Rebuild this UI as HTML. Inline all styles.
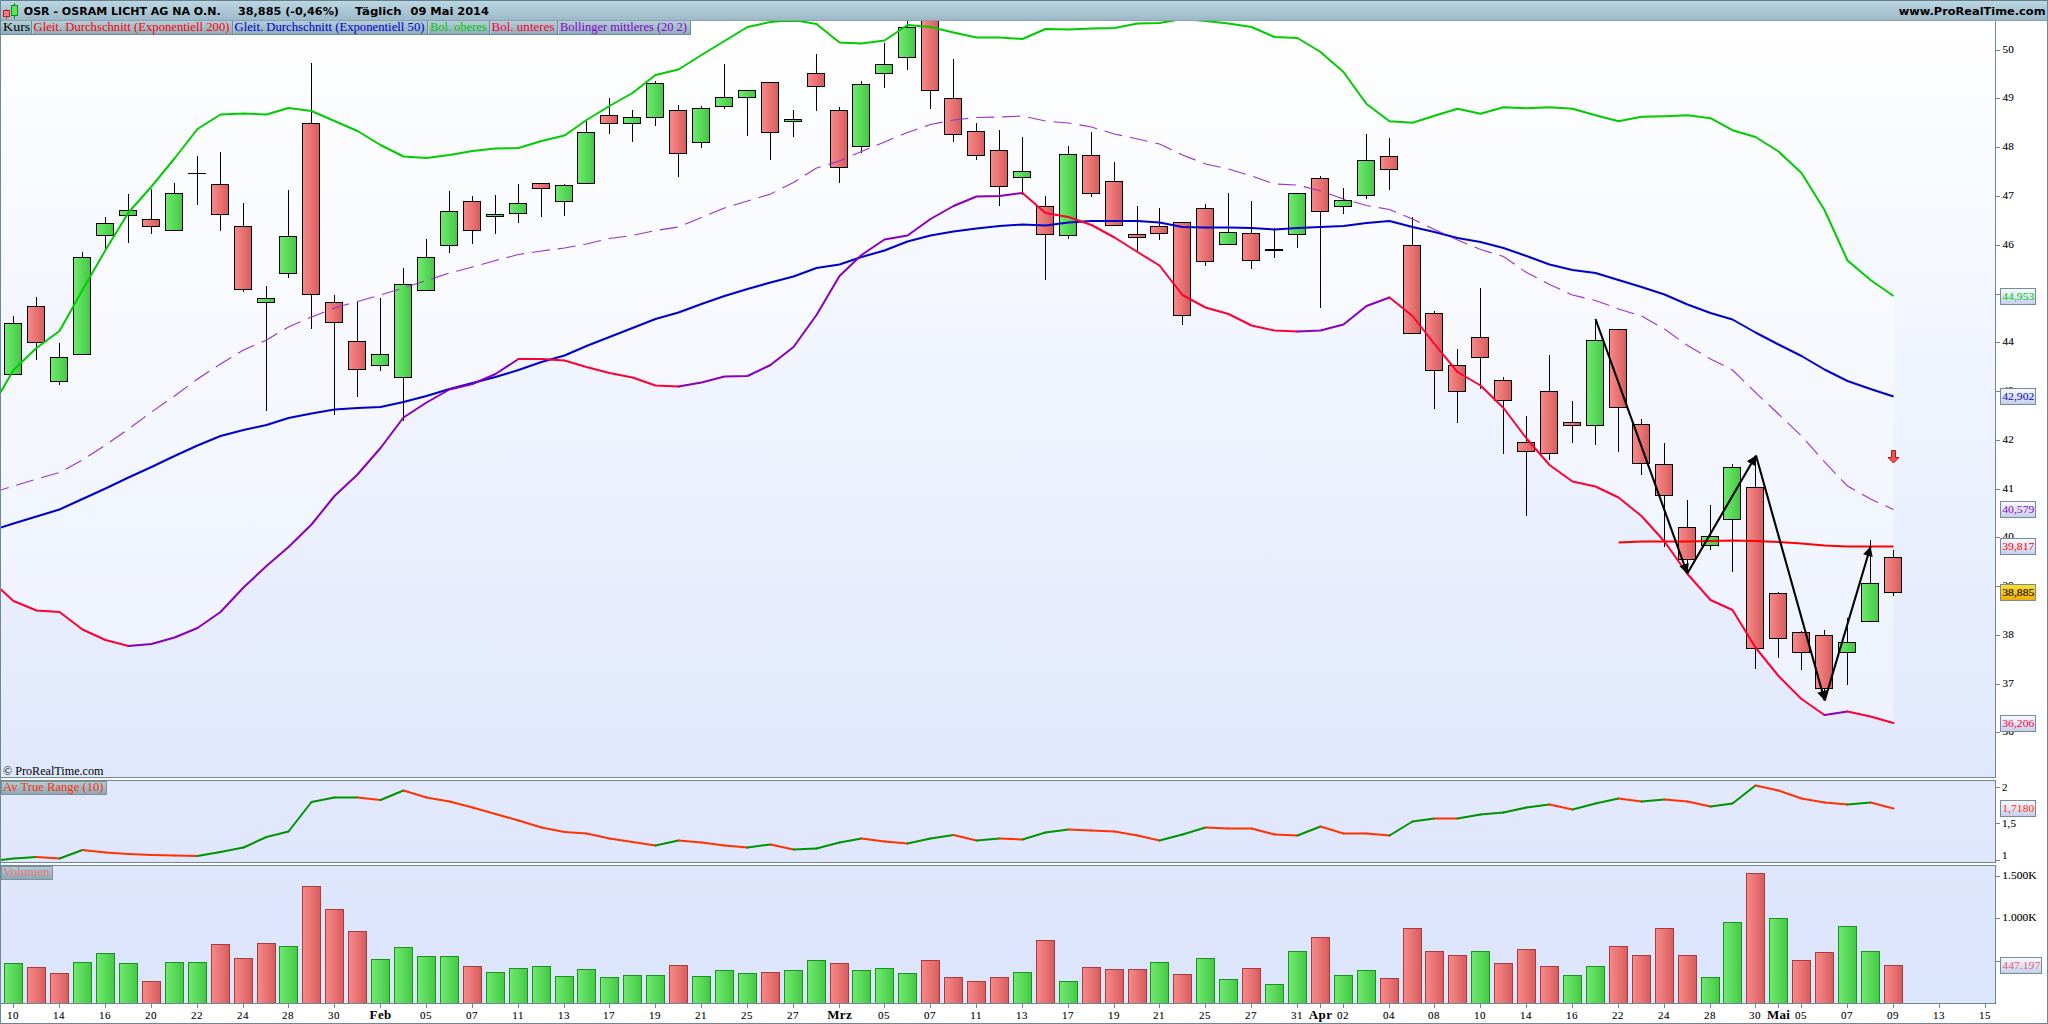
<!DOCTYPE html>
<html><head><meta charset="utf-8"><title>OSR - OSRAM LICHT AG NA O.N.</title>
<style>html,body{margin:0;padding:0;background:#fff;overflow:hidden}svg{display:block}.s{font-family:"Liberation Serif",serif;font-size:11px}.l{font-family:"Liberation Serif",serif;font-size:11.5px}.m{font-family:"Liberation Serif",serif;font-size:13px;font-weight:bold}.k{stroke:#000;stroke-width:0.1px}.t{font-family:"DejaVu Sans",sans-serif;font-size:11px;font-weight:bold}</style></head><body>
<svg width="2048" height="1024" viewBox="0 0 2048 1024">
<defs>
<linearGradient id="bg1" x1="0" y1="0" x2="0" y2="1"><stop offset="0" stop-color="#ffffff"/><stop offset="1" stop-color="#e0e8fc"/></linearGradient>
<linearGradient id="bg1f" x1="0" y1="0" x2="0" y2="1"><stop offset="0" stop-color="#fbfcff"/><stop offset="0.35" stop-color="#f2f5fe"/><stop offset="1" stop-color="#e2e7fb"/></linearGradient>
<linearGradient id="bg2" x1="0" y1="0" x2="0" y2="1"><stop offset="0" stop-color="#e3e9fd"/><stop offset="1" stop-color="#e0e7fd"/></linearGradient>
<linearGradient id="bg3" x1="0" y1="0" x2="0" y2="1"><stop offset="0" stop-color="#dfe7fd"/><stop offset="1" stop-color="#dbe5fc"/></linearGradient>
<linearGradient id="hd" x1="0" y1="0" x2="0" y2="1"><stop offset="0" stop-color="#bcd8e4"/><stop offset="0.5" stop-color="#acc8d6"/><stop offset="1" stop-color="#9cb8c6"/></linearGradient>
<linearGradient id="lg" x1="0" y1="0" x2="0" y2="1"><stop offset="0" stop-color="#b4ced9"/><stop offset="1" stop-color="#8ca6b4"/></linearGradient>
<linearGradient id="lg0" x1="0" y1="0" x2="0" y2="1"><stop offset="0" stop-color="#b4ced9"/><stop offset="1" stop-color="#8eaab8"/></linearGradient>
<linearGradient id="gr" x1="0" y1="0" x2="1" y2="0"><stop offset="0" stop-color="#f88a8a"/><stop offset="1" stop-color="#d85c5c"/></linearGradient>
<linearGradient id="gg" x1="0" y1="0" x2="1" y2="0"><stop offset="0" stop-color="#70ea70"/><stop offset="1" stop-color="#44c844"/></linearGradient>
<linearGradient id="pb" x1="0" y1="0" x2="0" y2="1"><stop offset="0" stop-color="#fafbff"/><stop offset="1" stop-color="#c6ceec"/></linearGradient>
<linearGradient id="py" x1="0" y1="0" x2="0" y2="1"><stop offset="0" stop-color="#ffe030"/><stop offset="1" stop-color="#f0b000"/></linearGradient>
<clipPath id="c1"><rect x="1" y="21" width="1994" height="756"/></clipPath>
</defs>
<rect x="0" y="0" width="2048" height="1024" fill="#ffffff"/>
<rect x="1" y="20" width="1994" height="757" fill="url(#bg1)"/>
<rect x="1" y="780" width="1994" height="82" fill="url(#bg2)"/>
<rect x="1" y="866" width="1994" height="137" fill="url(#bg3)"/>
<g clip-path="url(#c1)">
<polygon points="-8.5,408 13.5,370 36.5,348 59.5,331 82.5,290 105.5,250 128.5,212.5 151.5,186.5 174.5,158.5 197.5,129 220.5,114.5 243.5,113.5 266.5,114.5 288.5,108 311.5,111 334.5,121 357.5,131 380.5,145 403.5,156.5 426.5,158 449.5,155 472.5,151 495.5,148.5 518.5,148 541.5,141 564.5,135.5 586.5,120 609.5,106 632.5,93 655.5,75 678.5,69.5 701.5,55 724.5,41 747.5,27 770.5,22 793.5,20 816.5,24 839.5,42.5 861.5,43.5 884.5,40.5 907.5,25 930.5,27 953.5,32.5 976.5,37.5 999.5,37.5 1022.5,39 1045.5,29 1068.5,29.5 1091.5,28.5 1114.5,28 1137.5,23.5 1159.5,23 1182.5,19 1205.5,21 1228.5,23.5 1251.5,27 1274.5,37 1297.5,38 1320.5,52 1343.5,72 1366.5,104 1389.5,121.2 1412.5,122.7 1434.5,115.7 1457.5,108.7 1480.5,113.7 1503.5,107.2 1526.5,108.2 1549.5,107.2 1572.5,108.7 1595.5,115.2 1618.5,121.2 1641.5,116.7 1664.5,116.2 1687.5,115.2 1710.5,118.2 1732.5,130.2 1755.5,137 1778.5,151.5 1801.5,173 1824.5,210 1847.5,260.5 1870.5,280 1893.5,296 1893.5,723 1870.5,716.5 1847.5,711.5 1824.5,715 1801.5,699 1778.5,676 1755.5,647.5 1732.5,610 1710.5,600 1687.5,574 1664.5,541.5 1641.5,516 1618.5,497.5 1595.5,486.5 1572.5,481.5 1549.5,465 1526.5,438.5 1503.5,408 1480.5,385.5 1457.5,372 1434.5,344 1412.5,316 1389.5,297.5 1366.5,306 1343.5,324.5 1320.5,330.5 1297.5,331.5 1274.5,330.5 1251.5,325.5 1228.5,314 1205.5,307.5 1182.5,295 1159.5,265.5 1137.5,252 1114.5,237.5 1091.5,225 1068.5,217 1045.5,213 1022.5,193 999.5,196 976.5,196.5 953.5,206 930.5,219 907.5,235.5 884.5,239.5 861.5,255 839.5,276 816.5,315 793.5,347 770.5,365 747.5,376 724.5,376.5 701.5,382.5 678.5,386.5 655.5,385.5 632.5,377.5 609.5,373 586.5,367 564.5,360.5 541.5,359 518.5,359 495.5,374 472.5,384 449.5,389.5 426.5,402.5 403.5,417.5 380.5,448 357.5,474.5 334.5,496 311.5,524.5 288.5,547 266.5,566 243.5,587.5 220.5,612 197.5,628 174.5,637.5 151.5,644 128.5,646 105.5,640 82.5,629.5 59.5,612 36.5,610.5 13.5,601 -8.5,581" fill="#ffffff" fill-opacity="0.38"/>
<g shape-rendering="crispEdges" stroke="#000" stroke-width="1">
<line x1="13.5" y1="316" x2="13.5" y2="323"/>
<rect x="4.5" y="323.5" width="17" height="51.0" fill="url(#gg)"/>
<line x1="36.5" y1="297" x2="36.5" y2="306"/>
<line x1="36.5" y1="342.5" x2="36.5" y2="360"/>
<rect x="27.5" y="306.5" width="17" height="36.0" fill="url(#gr)"/>
<line x1="59.5" y1="342.5" x2="59.5" y2="357.5"/>
<line x1="59.5" y1="381.5" x2="59.5" y2="385"/>
<rect x="50.5" y="357.5" width="17" height="24.0" fill="url(#gg)"/>
<line x1="82.5" y1="252" x2="82.5" y2="257.5"/>
<rect x="73.5" y="257.5" width="17" height="97.0" fill="url(#gg)"/>
<line x1="105.5" y1="217" x2="105.5" y2="223"/>
<line x1="105.5" y1="235.5" x2="105.5" y2="249.5"/>
<rect x="96.5" y="223.5" width="17" height="12.0" fill="url(#gg)"/>
<line x1="128.5" y1="194" x2="128.5" y2="210.5"/>
<line x1="128.5" y1="215.5" x2="128.5" y2="243"/>
<rect x="119.5" y="210.5" width="17" height="5.0" fill="url(#gg)"/>
<line x1="151.5" y1="189" x2="151.5" y2="219"/>
<line x1="151.5" y1="226" x2="151.5" y2="234"/>
<rect x="142.5" y="219.5" width="17" height="7.0" fill="url(#gr)"/>
<line x1="174.5" y1="183" x2="174.5" y2="193"/>
<rect x="165.5" y="193.5" width="17" height="37.0" fill="url(#gg)"/>
<line x1="197.5" y1="156" x2="197.5" y2="205"/>
<line x1="188.0" y1="173" x2="206.0" y2="173" stroke-width="1"/>
<line x1="220.5" y1="152" x2="220.5" y2="184"/>
<line x1="220.5" y1="214.5" x2="220.5" y2="231"/>
<rect x="211.5" y="184.5" width="17" height="30.0" fill="url(#gr)"/>
<line x1="243.5" y1="203" x2="243.5" y2="226"/>
<line x1="243.5" y1="289.5" x2="243.5" y2="292"/>
<rect x="234.5" y="226.5" width="17" height="63.0" fill="url(#gr)"/>
<line x1="266.5" y1="286" x2="266.5" y2="298"/>
<line x1="266.5" y1="302" x2="266.5" y2="411"/>
<rect x="257.5" y="298.5" width="17" height="4.0" fill="url(#gg)"/>
<line x1="288.5" y1="190" x2="288.5" y2="236"/>
<line x1="288.5" y1="273.5" x2="288.5" y2="278"/>
<rect x="279.5" y="236.5" width="17" height="37.0" fill="url(#gg)"/>
<line x1="311.5" y1="63" x2="311.5" y2="123"/>
<line x1="311.5" y1="294.5" x2="311.5" y2="329"/>
<rect x="302.5" y="123.5" width="17" height="171.0" fill="url(#gr)"/>
<line x1="334.5" y1="295" x2="334.5" y2="302.5"/>
<line x1="334.5" y1="322.5" x2="334.5" y2="415"/>
<rect x="325.5" y="302.5" width="17" height="20.0" fill="url(#gr)"/>
<line x1="357.5" y1="302" x2="357.5" y2="341"/>
<line x1="357.5" y1="369.5" x2="357.5" y2="397"/>
<rect x="348.5" y="341.5" width="17" height="28.0" fill="url(#gr)"/>
<line x1="380.5" y1="298" x2="380.5" y2="354"/>
<line x1="380.5" y1="365.5" x2="380.5" y2="371"/>
<rect x="371.5" y="354.5" width="17" height="11.0" fill="url(#gg)"/>
<line x1="403.5" y1="268" x2="403.5" y2="284"/>
<line x1="403.5" y1="377.5" x2="403.5" y2="421"/>
<rect x="394.5" y="284.5" width="17" height="93.0" fill="url(#gg)"/>
<line x1="426.5" y1="239" x2="426.5" y2="257.5"/>
<rect x="417.5" y="257.5" width="17" height="33.0" fill="url(#gg)"/>
<line x1="449.5" y1="191" x2="449.5" y2="211"/>
<line x1="449.5" y1="245.5" x2="449.5" y2="253"/>
<rect x="440.5" y="211.5" width="17" height="34.0" fill="url(#gg)"/>
<line x1="472.5" y1="196" x2="472.5" y2="201"/>
<line x1="472.5" y1="230.5" x2="472.5" y2="244"/>
<rect x="463.5" y="201.5" width="17" height="29.0" fill="url(#gr)"/>
<line x1="495.5" y1="195" x2="495.5" y2="214"/>
<line x1="495.5" y1="216" x2="495.5" y2="234"/>
<rect x="486.5" y="214.5" width="17" height="2.0" fill="url(#gg)"/>
<line x1="518.5" y1="184" x2="518.5" y2="203"/>
<line x1="518.5" y1="213" x2="518.5" y2="222.5"/>
<rect x="509.5" y="203.5" width="17" height="10.0" fill="url(#gg)"/>
<line x1="541.5" y1="188" x2="541.5" y2="217"/>
<rect x="532.5" y="183.5" width="17" height="5.0" fill="url(#gr)"/>
<line x1="564.5" y1="184" x2="564.5" y2="185"/>
<line x1="564.5" y1="201" x2="564.5" y2="216"/>
<rect x="555.5" y="185.5" width="17" height="16.0" fill="url(#gg)"/>
<line x1="586.5" y1="121" x2="586.5" y2="132.5"/>
<rect x="577.5" y="132.5" width="17" height="51.0" fill="url(#gg)"/>
<line x1="609.5" y1="98" x2="609.5" y2="115"/>
<line x1="609.5" y1="123" x2="609.5" y2="134"/>
<rect x="600.5" y="115.5" width="17" height="8.0" fill="url(#gr)"/>
<line x1="632.5" y1="110" x2="632.5" y2="117.5"/>
<line x1="632.5" y1="123" x2="632.5" y2="142"/>
<rect x="623.5" y="117.5" width="17" height="6.0" fill="url(#gg)"/>
<line x1="655.5" y1="81" x2="655.5" y2="83.5"/>
<line x1="655.5" y1="117" x2="655.5" y2="126"/>
<rect x="646.5" y="83.5" width="17" height="34.0" fill="url(#gg)"/>
<line x1="678.5" y1="105" x2="678.5" y2="110.5"/>
<line x1="678.5" y1="153" x2="678.5" y2="177"/>
<rect x="669.5" y="110.5" width="17" height="43.0" fill="url(#gr)"/>
<line x1="701.5" y1="106" x2="701.5" y2="108"/>
<line x1="701.5" y1="142" x2="701.5" y2="148"/>
<rect x="692.5" y="108.5" width="17" height="34.0" fill="url(#gg)"/>
<line x1="724.5" y1="64" x2="724.5" y2="97.5"/>
<line x1="724.5" y1="106.5" x2="724.5" y2="109"/>
<rect x="715.5" y="97.5" width="17" height="9.0" fill="url(#gg)"/>
<line x1="747.5" y1="97.5" x2="747.5" y2="136"/>
<rect x="738.5" y="90.5" width="17" height="7.0" fill="url(#gg)"/>
<line x1="770.5" y1="132" x2="770.5" y2="159.5"/>
<rect x="761.5" y="82.5" width="17" height="50.0" fill="url(#gr)"/>
<line x1="793.5" y1="110" x2="793.5" y2="119"/>
<line x1="793.5" y1="121.5" x2="793.5" y2="137"/>
<rect x="784.5" y="119.5" width="17" height="2.0" fill="url(#gg)"/>
<line x1="816.5" y1="54" x2="816.5" y2="73"/>
<line x1="816.5" y1="86.5" x2="816.5" y2="111"/>
<rect x="807.5" y="73.5" width="17" height="13.0" fill="url(#gr)"/>
<line x1="839.5" y1="107" x2="839.5" y2="110.5"/>
<line x1="839.5" y1="167" x2="839.5" y2="183"/>
<rect x="830.5" y="110.5" width="17" height="57.0" fill="url(#gr)"/>
<line x1="861.5" y1="81" x2="861.5" y2="84.5"/>
<line x1="861.5" y1="146" x2="861.5" y2="152.5"/>
<rect x="852.5" y="84.5" width="17" height="62.0" fill="url(#gg)"/>
<line x1="884.5" y1="43" x2="884.5" y2="64.5"/>
<line x1="884.5" y1="73.5" x2="884.5" y2="88"/>
<rect x="875.5" y="64.5" width="17" height="9.0" fill="url(#gg)"/>
<line x1="907.5" y1="15" x2="907.5" y2="27.5"/>
<line x1="907.5" y1="57.5" x2="907.5" y2="69.5"/>
<rect x="898.5" y="27.5" width="17" height="30.0" fill="url(#gg)"/>
<line x1="930.5" y1="10" x2="930.5" y2="12"/>
<line x1="930.5" y1="90" x2="930.5" y2="108.5"/>
<rect x="921.5" y="12.5" width="17" height="78.0" fill="url(#gr)"/>
<line x1="953.5" y1="59" x2="953.5" y2="98.5"/>
<line x1="953.5" y1="134.5" x2="953.5" y2="142"/>
<rect x="944.5" y="98.5" width="17" height="36.0" fill="url(#gr)"/>
<line x1="976.5" y1="123" x2="976.5" y2="131.5"/>
<line x1="976.5" y1="155.5" x2="976.5" y2="160"/>
<rect x="967.5" y="131.5" width="17" height="24.0" fill="url(#gr)"/>
<line x1="999.5" y1="130" x2="999.5" y2="150.5"/>
<line x1="999.5" y1="186" x2="999.5" y2="206"/>
<rect x="990.5" y="150.5" width="17" height="36.0" fill="url(#gr)"/>
<line x1="1022.5" y1="137" x2="1022.5" y2="171"/>
<line x1="1022.5" y1="177" x2="1022.5" y2="195"/>
<rect x="1013.5" y="171.5" width="17" height="6.0" fill="url(#gg)"/>
<line x1="1045.5" y1="196" x2="1045.5" y2="206"/>
<line x1="1045.5" y1="234.5" x2="1045.5" y2="279.5"/>
<rect x="1036.5" y="206.5" width="17" height="28.0" fill="url(#gr)"/>
<line x1="1068.5" y1="146" x2="1068.5" y2="154.5"/>
<line x1="1068.5" y1="235" x2="1068.5" y2="239"/>
<rect x="1059.5" y="154.5" width="17" height="81.0" fill="url(#gg)"/>
<line x1="1091.5" y1="132" x2="1091.5" y2="155.5"/>
<line x1="1091.5" y1="193" x2="1091.5" y2="197"/>
<rect x="1082.5" y="155.5" width="17" height="38.0" fill="url(#gr)"/>
<line x1="1114.5" y1="162" x2="1114.5" y2="181"/>
<rect x="1105.5" y="181.5" width="17" height="44.0" fill="url(#gr)"/>
<line x1="1137.5" y1="206" x2="1137.5" y2="234"/>
<line x1="1137.5" y1="237.5" x2="1137.5" y2="250.5"/>
<rect x="1128.5" y="234.5" width="17" height="3.0" fill="url(#gr)"/>
<line x1="1159.5" y1="208" x2="1159.5" y2="226"/>
<line x1="1159.5" y1="233.5" x2="1159.5" y2="240"/>
<rect x="1150.5" y="226.5" width="17" height="7.0" fill="url(#gr)"/>
<line x1="1182.5" y1="315" x2="1182.5" y2="324.5"/>
<rect x="1173.5" y="222.5" width="17" height="93.0" fill="url(#gr)"/>
<line x1="1205.5" y1="204" x2="1205.5" y2="208"/>
<line x1="1205.5" y1="261.5" x2="1205.5" y2="265.5"/>
<rect x="1196.5" y="208.5" width="17" height="53.0" fill="url(#gr)"/>
<line x1="1228.5" y1="193" x2="1228.5" y2="232.5"/>
<rect x="1219.5" y="232.5" width="17" height="12.0" fill="url(#gg)"/>
<line x1="1251.5" y1="201" x2="1251.5" y2="233"/>
<line x1="1251.5" y1="260.5" x2="1251.5" y2="269"/>
<rect x="1242.5" y="233.5" width="17" height="27.0" fill="url(#gr)"/>
<line x1="1274.5" y1="228" x2="1274.5" y2="257.5"/>
<line x1="1265.0" y1="249.5" x2="1283.0" y2="249.5" stroke-width="2"/>
<line x1="1297.5" y1="234.5" x2="1297.5" y2="247.5"/>
<rect x="1288.5" y="193.5" width="17" height="41.0" fill="url(#gg)"/>
<line x1="1320.5" y1="176" x2="1320.5" y2="178"/>
<line x1="1320.5" y1="211.5" x2="1320.5" y2="307.5"/>
<rect x="1311.5" y="178.5" width="17" height="33.0" fill="url(#gr)"/>
<line x1="1343.5" y1="188" x2="1343.5" y2="200"/>
<line x1="1343.5" y1="206.5" x2="1343.5" y2="214"/>
<rect x="1334.5" y="200.5" width="17" height="6.0" fill="url(#gg)"/>
<line x1="1366.5" y1="134" x2="1366.5" y2="160.5"/>
<line x1="1366.5" y1="195.5" x2="1366.5" y2="198.5"/>
<rect x="1357.5" y="160.5" width="17" height="35.0" fill="url(#gg)"/>
<line x1="1389.5" y1="138" x2="1389.5" y2="156.5"/>
<line x1="1389.5" y1="169.5" x2="1389.5" y2="190"/>
<rect x="1380.5" y="156.5" width="17" height="13.0" fill="url(#gr)"/>
<line x1="1412.5" y1="217" x2="1412.5" y2="245.5"/>
<rect x="1403.5" y="245.5" width="17" height="88.0" fill="url(#gr)"/>
<line x1="1434.5" y1="311" x2="1434.5" y2="313.5"/>
<line x1="1434.5" y1="370.5" x2="1434.5" y2="409"/>
<rect x="1425.5" y="313.5" width="17" height="57.0" fill="url(#gr)"/>
<line x1="1457.5" y1="349" x2="1457.5" y2="365.5"/>
<line x1="1457.5" y1="391.5" x2="1457.5" y2="423"/>
<rect x="1448.5" y="365.5" width="17" height="26.0" fill="url(#gr)"/>
<line x1="1480.5" y1="288" x2="1480.5" y2="337.5"/>
<line x1="1480.5" y1="357.5" x2="1480.5" y2="389"/>
<rect x="1471.5" y="337.5" width="17" height="20.0" fill="url(#gr)"/>
<line x1="1503.5" y1="377" x2="1503.5" y2="380.5"/>
<line x1="1503.5" y1="400.5" x2="1503.5" y2="454"/>
<rect x="1494.5" y="380.5" width="17" height="20.0" fill="url(#gr)"/>
<line x1="1526.5" y1="416" x2="1526.5" y2="442.5"/>
<line x1="1526.5" y1="451.5" x2="1526.5" y2="516"/>
<rect x="1517.5" y="442.5" width="17" height="9.0" fill="url(#gr)"/>
<line x1="1549.5" y1="355" x2="1549.5" y2="391.5"/>
<line x1="1549.5" y1="453" x2="1549.5" y2="459.5"/>
<rect x="1540.5" y="391.5" width="17" height="62.0" fill="url(#gr)"/>
<line x1="1572.5" y1="401" x2="1572.5" y2="422.5"/>
<line x1="1572.5" y1="425.5" x2="1572.5" y2="443"/>
<rect x="1563.5" y="422.5" width="17" height="3.0" fill="url(#gr)"/>
<line x1="1595.5" y1="319" x2="1595.5" y2="340.5"/>
<line x1="1595.5" y1="425" x2="1595.5" y2="444.5"/>
<rect x="1586.5" y="340.5" width="17" height="85.0" fill="url(#gg)"/>
<line x1="1618.5" y1="407" x2="1618.5" y2="451.5"/>
<rect x="1609.5" y="329.5" width="17" height="78.0" fill="url(#gr)"/>
<line x1="1641.5" y1="419" x2="1641.5" y2="424.5"/>
<line x1="1641.5" y1="463.5" x2="1641.5" y2="474.5"/>
<rect x="1632.5" y="424.5" width="17" height="39.0" fill="url(#gr)"/>
<line x1="1664.5" y1="443" x2="1664.5" y2="464.5"/>
<line x1="1664.5" y1="495.5" x2="1664.5" y2="547"/>
<rect x="1655.5" y="464.5" width="17" height="31.0" fill="url(#gr)"/>
<line x1="1687.5" y1="500" x2="1687.5" y2="527"/>
<line x1="1687.5" y1="559.5" x2="1687.5" y2="573"/>
<rect x="1678.5" y="527.5" width="17" height="32.0" fill="url(#gr)"/>
<line x1="1710.5" y1="505" x2="1710.5" y2="536.5"/>
<line x1="1710.5" y1="545.5" x2="1710.5" y2="550"/>
<rect x="1701.5" y="536.5" width="17" height="9.0" fill="url(#gg)"/>
<line x1="1732.5" y1="464" x2="1732.5" y2="467.5"/>
<line x1="1732.5" y1="519.5" x2="1732.5" y2="572"/>
<rect x="1723.5" y="467.5" width="17" height="52.0" fill="url(#gg)"/>
<line x1="1755.5" y1="456" x2="1755.5" y2="487.5"/>
<line x1="1755.5" y1="648" x2="1755.5" y2="668.5"/>
<rect x="1746.5" y="487.5" width="17" height="161.0" fill="url(#gr)"/>
<line x1="1778.5" y1="592" x2="1778.5" y2="593"/>
<line x1="1778.5" y1="638.5" x2="1778.5" y2="658"/>
<rect x="1769.5" y="593.5" width="17" height="45.0" fill="url(#gr)"/>
<line x1="1801.5" y1="631" x2="1801.5" y2="632.5"/>
<line x1="1801.5" y1="652.5" x2="1801.5" y2="669.5"/>
<rect x="1792.5" y="632.5" width="17" height="20.0" fill="url(#gr)"/>
<line x1="1824.5" y1="630" x2="1824.5" y2="635"/>
<line x1="1824.5" y1="688.5" x2="1824.5" y2="700"/>
<rect x="1815.5" y="635.5" width="17" height="53.0" fill="url(#gr)"/>
<line x1="1847.5" y1="618" x2="1847.5" y2="642"/>
<line x1="1847.5" y1="652.5" x2="1847.5" y2="684.5"/>
<rect x="1838.5" y="642.5" width="17" height="10.0" fill="url(#gg)"/>
<line x1="1870.5" y1="540" x2="1870.5" y2="583.5"/>
<rect x="1861.5" y="583.5" width="17" height="38.0" fill="url(#gg)"/>
<line x1="1893.5" y1="550" x2="1893.5" y2="557.5"/>
<line x1="1893.5" y1="592.5" x2="1893.5" y2="596"/>
<rect x="1884.5" y="557.5" width="17" height="35.0" fill="url(#gr)"/>
</g>
<path d="M1618.5 542.5 L1641.5 541.5 L1664.5 541.5 L1687.5 541.5 L1710.5 541 L1732.5 540.5 L1755.5 541 L1778.5 542 L1801.5 543.5 L1824.5 545.5 L1847.5 546.5 L1870.5 546.5 L1893.5 546.5" fill="none" stroke="#ff0000" stroke-width="2" stroke-linejoin="round"/>
<path d="M-8.5 530.5 L13.5 523.5 L36.5 516.5 L59.5 509.5 L82.5 499 L105.5 488.5 L128.5 477.5 L151.5 467 L174.5 456 L197.5 445.5 L220.5 436 L243.5 430 L266.5 425 L288.5 418 L311.5 413.5 L334.5 409.5 L357.5 408 L380.5 407 L403.5 402 L426.5 396 L449.5 389 L472.5 383 L495.5 377 L518.5 370 L541.5 362 L564.5 355.5 L586.5 346 L609.5 337 L632.5 328 L655.5 319 L678.5 312.5 L701.5 304 L724.5 296 L747.5 289 L770.5 282.5 L793.5 276.5 L816.5 268 L839.5 264.5 L861.5 257 L884.5 250.5 L907.5 241.5 L930.5 235.5 L953.5 231.5 L976.5 228.5 L999.5 226 L1022.5 224.5 L1045.5 225.5 L1068.5 222.5 L1091.5 221 L1114.5 221 L1137.5 221 L1159.5 222.5 L1182.5 227 L1205.5 227.5 L1228.5 227.5 L1251.5 228 L1274.5 229.5 L1297.5 228 L1320.5 227 L1343.5 226 L1366.5 223 L1389.5 221 L1412.5 227 L1434.5 232 L1457.5 238 L1480.5 242 L1503.5 248 L1526.5 256 L1549.5 264.5 L1572.5 270 L1595.5 273 L1618.5 280 L1641.5 287 L1664.5 294.5 L1687.5 304.5 L1710.5 313 L1732.5 319.5 L1755.5 332.5 L1778.5 344.5 L1801.5 356 L1824.5 369.5 L1847.5 381 L1870.5 389 L1893.5 396.5" fill="none" stroke="#0000cc" stroke-width="2" stroke-linejoin="round"/>
<path d="M-8.5 408 L13.5 370 L36.5 348 L59.5 331 L82.5 290 L105.5 250 L128.5 212.5 L151.5 186.5 L174.5 158.5 L197.5 129 L220.5 114.5 L243.5 113.5 L266.5 114.5 L288.5 108 L311.5 111 L334.5 121 L357.5 131 L380.5 145 L403.5 156.5 L426.5 158 L449.5 155 L472.5 151 L495.5 148.5 L518.5 148 L541.5 141 L564.5 135.5 L586.5 120 L609.5 106 L632.5 93 L655.5 75 L678.5 69.5 L701.5 55 L724.5 41 L747.5 27 L770.5 22 L793.5 20 L816.5 24 L839.5 42.5 L861.5 43.5 L884.5 40.5 L907.5 25 L930.5 27 L953.5 32.5 L976.5 37.5 L999.5 37.5 L1022.5 39 L1045.5 29 L1068.5 29.5 L1091.5 28.5 L1114.5 28 L1137.5 23.5 L1159.5 23 L1182.5 19 L1205.5 21 L1228.5 23.5 L1251.5 27 L1274.5 37 L1297.5 38 L1320.5 52 L1343.5 72 L1366.5 104 L1389.5 121.2 L1412.5 122.7 L1434.5 115.7 L1457.5 108.7 L1480.5 113.7 L1503.5 107.2 L1526.5 108.2 L1549.5 107.2 L1572.5 108.7 L1595.5 115.2 L1618.5 121.2 L1641.5 116.7 L1664.5 116.2 L1687.5 115.2 L1710.5 118.2 L1732.5 130.2 L1755.5 137 L1778.5 151.5 L1801.5 173 L1824.5 210 L1847.5 260.5 L1870.5 280 L1893.5 296" fill="none" stroke="#00cc00" stroke-width="2" stroke-linejoin="round"/>
<path d="M-8.5 493 L13.5 486 L36.5 479 L59.5 472.5 L82.5 460 L105.5 445 L128.5 429 L151.5 412 L174.5 396 L197.5 379 L220.5 364 L243.5 350 L266.5 340 L288.5 327 L311.5 317 L334.5 308 L357.5 301.5 L380.5 295 L403.5 288 L426.5 280.5 L449.5 273 L472.5 267 L495.5 260.5 L518.5 254.5 L541.5 251 L564.5 248 L586.5 244 L609.5 238.5 L632.5 235.5 L655.5 230.5 L678.5 227 L701.5 217.5 L724.5 208 L747.5 201 L770.5 194 L793.5 182.5 L816.5 168 L839.5 161 L861.5 151.5 L884.5 142 L907.5 132.5 L930.5 124.5 L953.5 120 L976.5 117.5 L999.5 117 L1022.5 116 L1045.5 121 L1068.5 123 L1091.5 127 L1114.5 134 L1137.5 139 L1159.5 144 L1182.5 155 L1205.5 164 L1228.5 169 L1251.5 176 L1274.5 184 L1297.5 185 L1320.5 191 L1343.5 199 L1366.5 205.5 L1389.5 209.5 L1412.5 219 L1434.5 229.5 L1457.5 240 L1480.5 249.5 L1503.5 256.5 L1526.5 272.5 L1549.5 284.5 L1572.5 295 L1595.5 300.5 L1618.5 309 L1641.5 316 L1664.5 329 L1687.5 345.5 L1710.5 359 L1732.5 370 L1755.5 392.5 L1778.5 414 L1801.5 436 L1824.5 462 L1847.5 486 L1870.5 499 L1893.5 509.5" fill="none" stroke="#9a32cd" stroke-width="1.1" stroke-dasharray="18 8"/>
<path d="M-8.5 581 L13.5 601 L36.5 610.5 L59.5 612 L82.5 629.5 L105.5 640 L128.5 646" fill="none" stroke="#ff0033" stroke-width="2" stroke-linejoin="round" stroke-linecap="round"/>
<path d="M128.5 646 L151.5 644 L174.5 637.5 L197.5 628 L220.5 612 L243.5 587.5 L266.5 566 L288.5 547 L311.5 524.5 L334.5 496 L357.5 474.5 L380.5 448 L403.5 417.5 L426.5 402.5 L449.5 389.5 L472.5 384 L495.5 374 L518.5 359" fill="none" stroke="#8800bb" stroke-width="2" stroke-linejoin="round" stroke-linecap="round"/>
<path d="M518.5 359 L541.5 359 L564.5 360.5 L586.5 367 L609.5 373 L632.5 377.5 L655.5 385.5 L678.5 386.5" fill="none" stroke="#ff0033" stroke-width="2" stroke-linejoin="round" stroke-linecap="round"/>
<path d="M678.5 386.5 L701.5 382.5 L724.5 376.5 L747.5 376 L770.5 365 L793.5 347 L816.5 315 L839.5 276 L861.5 255 L884.5 239.5 L907.5 235.5 L930.5 219 L953.5 206 L976.5 196.5 L999.5 196 L1022.5 193" fill="none" stroke="#8800bb" stroke-width="2" stroke-linejoin="round" stroke-linecap="round"/>
<path d="M1022.5 193 L1045.5 213 L1068.5 217 L1091.5 225 L1114.5 237.5 L1137.5 252 L1159.5 265.5 L1182.5 295 L1205.5 307.5 L1228.5 314 L1251.5 325.5 L1274.5 330.5 L1297.5 331.5" fill="none" stroke="#ff0033" stroke-width="2" stroke-linejoin="round" stroke-linecap="round"/>
<path d="M1297.5 331.5 L1320.5 330.5 L1343.5 324.5 L1366.5 306 L1389.5 297.5" fill="none" stroke="#8800bb" stroke-width="2" stroke-linejoin="round" stroke-linecap="round"/>
<path d="M1389.5 297.5 L1412.5 316 L1434.5 344 L1457.5 372 L1480.5 385.5 L1503.5 408 L1526.5 438.5 L1549.5 465 L1572.5 481.5 L1595.5 486.5 L1618.5 497.5 L1641.5 516 L1664.5 541.5 L1687.5 574 L1710.5 600 L1732.5 610 L1755.5 647.5 L1778.5 676 L1801.5 699 L1824.5 715" fill="none" stroke="#ff0033" stroke-width="2" stroke-linejoin="round" stroke-linecap="round"/>
<path d="M1824.5 715 L1847.5 711.5" fill="none" stroke="#8800bb" stroke-width="2" stroke-linejoin="round" stroke-linecap="round"/>
<path d="M1847.5 711.5 L1870.5 716.5 L1893.5 723" fill="none" stroke="#ff0033" stroke-width="2" stroke-linejoin="round" stroke-linecap="round"/>
<line x1="1595.5" y1="319" x2="1687.3" y2="573.5" stroke="#000" stroke-width="2.1"/>
<polygon points="1687.3,573.5 1688.8,562.9 1679.4,566.3" fill="#000"/>
<line x1="1687.3" y1="573.5" x2="1756" y2="455.5" stroke="#000" stroke-width="2.1"/>
<polygon points="1756,455.5 1746.9,461.2 1755.5,466.2" fill="#000"/>
<line x1="1756" y1="455.5" x2="1824.7" y2="700.5" stroke="#000" stroke-width="2.1"/>
<polygon points="1824.7,700.5 1826.9,690.0 1817.3,692.7" fill="#000"/>
<line x1="1824.7" y1="700.5" x2="1870.6" y2="546.5" stroke="#000" stroke-width="2.1"/>
<polygon points="1870.6,546.5 1863.1,554.2 1872.7,557.0" fill="#000"/>
<path d="M1891.5 450.5H1895.5V457.5H1899L1893.5 463L1888 457.5H1891.5Z" fill="none" stroke="#ffffff" stroke-opacity="0.7" stroke-width="3" stroke-linejoin="round"/>
<path d="M1891.5 450.5H1895.5V457.5H1899L1893.5 463L1888 457.5H1891.5Z" fill="#ee5656" stroke="#c00a18" stroke-width="1" stroke-linejoin="miter"/>
</g>
<text class="l" x="3" y="775" fill="#000" textLength="100.5" lengthAdjust="spacingAndGlyphs">© ProRealTime.com</text>
<line x1="13.5" y1="858.5" x2="36.5" y2="857" stroke="#009400" stroke-width="2" stroke-linecap="round"/>
<line x1="36.5" y1="857" x2="59.5" y2="858.5" stroke="#ff3300" stroke-width="2" stroke-linecap="round"/>
<line x1="59.5" y1="858.5" x2="82.5" y2="850" stroke="#009400" stroke-width="2" stroke-linecap="round"/>
<line x1="82.5" y1="850" x2="105.5" y2="852.5" stroke="#ff3300" stroke-width="2" stroke-linecap="round"/>
<line x1="105.5" y1="852.5" x2="128.5" y2="854" stroke="#ff3300" stroke-width="2" stroke-linecap="round"/>
<line x1="128.5" y1="854" x2="151.5" y2="855" stroke="#ff3300" stroke-width="2" stroke-linecap="round"/>
<line x1="151.5" y1="855" x2="174.5" y2="855.5" stroke="#ff3300" stroke-width="2" stroke-linecap="round"/>
<line x1="174.5" y1="855.5" x2="197.5" y2="856" stroke="#ff3300" stroke-width="2" stroke-linecap="round"/>
<line x1="197.5" y1="856" x2="220.5" y2="852" stroke="#009400" stroke-width="2" stroke-linecap="round"/>
<line x1="220.5" y1="852" x2="243.5" y2="847.5" stroke="#009400" stroke-width="2" stroke-linecap="round"/>
<line x1="243.5" y1="847.5" x2="266.5" y2="837" stroke="#009400" stroke-width="2" stroke-linecap="round"/>
<line x1="266.5" y1="837" x2="288.5" y2="831.5" stroke="#009400" stroke-width="2" stroke-linecap="round"/>
<line x1="288.5" y1="831.5" x2="311.5" y2="802" stroke="#009400" stroke-width="2" stroke-linecap="round"/>
<line x1="311.5" y1="802" x2="334.5" y2="797.5" stroke="#009400" stroke-width="2" stroke-linecap="round"/>
<line x1="334.5" y1="797.5" x2="357.5" y2="797.4" stroke="#009400" stroke-width="2" stroke-linecap="round"/>
<line x1="357.5" y1="797.4" x2="380.5" y2="800" stroke="#ff3300" stroke-width="2" stroke-linecap="round"/>
<line x1="380.5" y1="800" x2="403.5" y2="790.5" stroke="#009400" stroke-width="2" stroke-linecap="round"/>
<line x1="403.5" y1="790.5" x2="426.5" y2="797.5" stroke="#ff3300" stroke-width="2" stroke-linecap="round"/>
<line x1="426.5" y1="797.5" x2="449.5" y2="801.5" stroke="#ff3300" stroke-width="2" stroke-linecap="round"/>
<line x1="449.5" y1="801.5" x2="472.5" y2="807.5" stroke="#ff3300" stroke-width="2" stroke-linecap="round"/>
<line x1="472.5" y1="807.5" x2="495.5" y2="814" stroke="#ff3300" stroke-width="2" stroke-linecap="round"/>
<line x1="495.5" y1="814" x2="518.5" y2="820.5" stroke="#ff3300" stroke-width="2" stroke-linecap="round"/>
<line x1="518.5" y1="820.5" x2="541.5" y2="827.5" stroke="#ff3300" stroke-width="2" stroke-linecap="round"/>
<line x1="541.5" y1="827.5" x2="564.5" y2="832" stroke="#ff3300" stroke-width="2" stroke-linecap="round"/>
<line x1="564.5" y1="832" x2="586.5" y2="833.5" stroke="#ff3300" stroke-width="2" stroke-linecap="round"/>
<line x1="586.5" y1="833.5" x2="609.5" y2="838.5" stroke="#ff3300" stroke-width="2" stroke-linecap="round"/>
<line x1="609.5" y1="838.5" x2="632.5" y2="842" stroke="#ff3300" stroke-width="2" stroke-linecap="round"/>
<line x1="632.5" y1="842" x2="655.5" y2="845.5" stroke="#ff3300" stroke-width="2" stroke-linecap="round"/>
<line x1="655.5" y1="845.5" x2="678.5" y2="840.5" stroke="#009400" stroke-width="2" stroke-linecap="round"/>
<line x1="678.5" y1="840.5" x2="701.5" y2="842.5" stroke="#ff3300" stroke-width="2" stroke-linecap="round"/>
<line x1="701.5" y1="842.5" x2="724.5" y2="845.5" stroke="#ff3300" stroke-width="2" stroke-linecap="round"/>
<line x1="724.5" y1="845.5" x2="747.5" y2="847.5" stroke="#ff3300" stroke-width="2" stroke-linecap="round"/>
<line x1="747.5" y1="847.5" x2="770.5" y2="844.5" stroke="#009400" stroke-width="2" stroke-linecap="round"/>
<line x1="770.5" y1="844.5" x2="793.5" y2="849.5" stroke="#ff3300" stroke-width="2" stroke-linecap="round"/>
<line x1="793.5" y1="849.5" x2="816.5" y2="848.5" stroke="#009400" stroke-width="2" stroke-linecap="round"/>
<line x1="816.5" y1="848.5" x2="839.5" y2="842.5" stroke="#009400" stroke-width="2" stroke-linecap="round"/>
<line x1="839.5" y1="842.5" x2="861.5" y2="838.5" stroke="#009400" stroke-width="2" stroke-linecap="round"/>
<line x1="861.5" y1="838.5" x2="884.5" y2="841.5" stroke="#ff3300" stroke-width="2" stroke-linecap="round"/>
<line x1="884.5" y1="841.5" x2="907.5" y2="843.5" stroke="#ff3300" stroke-width="2" stroke-linecap="round"/>
<line x1="907.5" y1="843.5" x2="930.5" y2="838.5" stroke="#009400" stroke-width="2" stroke-linecap="round"/>
<line x1="930.5" y1="838.5" x2="953.5" y2="835" stroke="#009400" stroke-width="2" stroke-linecap="round"/>
<line x1="953.5" y1="835" x2="976.5" y2="840.5" stroke="#ff3300" stroke-width="2" stroke-linecap="round"/>
<line x1="976.5" y1="840.5" x2="999.5" y2="838.5" stroke="#009400" stroke-width="2" stroke-linecap="round"/>
<line x1="999.5" y1="838.5" x2="1022.5" y2="839.5" stroke="#ff3300" stroke-width="2" stroke-linecap="round"/>
<line x1="1022.5" y1="839.5" x2="1045.5" y2="832.5" stroke="#009400" stroke-width="2" stroke-linecap="round"/>
<line x1="1045.5" y1="832.5" x2="1068.5" y2="829.5" stroke="#009400" stroke-width="2" stroke-linecap="round"/>
<line x1="1068.5" y1="829.5" x2="1091.5" y2="830.5" stroke="#ff3300" stroke-width="2" stroke-linecap="round"/>
<line x1="1091.5" y1="830.5" x2="1114.5" y2="831.5" stroke="#ff3300" stroke-width="2" stroke-linecap="round"/>
<line x1="1114.5" y1="831.5" x2="1137.5" y2="835.5" stroke="#ff3300" stroke-width="2" stroke-linecap="round"/>
<line x1="1137.5" y1="835.5" x2="1159.5" y2="840.5" stroke="#ff3300" stroke-width="2" stroke-linecap="round"/>
<line x1="1159.5" y1="840.5" x2="1182.5" y2="834.5" stroke="#009400" stroke-width="2" stroke-linecap="round"/>
<line x1="1182.5" y1="834.5" x2="1205.5" y2="827.5" stroke="#009400" stroke-width="2" stroke-linecap="round"/>
<line x1="1205.5" y1="827.5" x2="1228.5" y2="828.5" stroke="#ff3300" stroke-width="2" stroke-linecap="round"/>
<line x1="1228.5" y1="828.5" x2="1251.5" y2="828.5" stroke="#ff3300" stroke-width="2" stroke-linecap="round"/>
<line x1="1251.5" y1="828.5" x2="1274.5" y2="834.5" stroke="#ff3300" stroke-width="2" stroke-linecap="round"/>
<line x1="1274.5" y1="834.5" x2="1297.5" y2="835.5" stroke="#ff3300" stroke-width="2" stroke-linecap="round"/>
<line x1="1297.5" y1="835.5" x2="1320.5" y2="826.5" stroke="#009400" stroke-width="2" stroke-linecap="round"/>
<line x1="1320.5" y1="826.5" x2="1343.5" y2="833.5" stroke="#ff3300" stroke-width="2" stroke-linecap="round"/>
<line x1="1343.5" y1="833.5" x2="1366.5" y2="833.5" stroke="#ff3300" stroke-width="2" stroke-linecap="round"/>
<line x1="1366.5" y1="833.5" x2="1389.5" y2="835.5" stroke="#ff3300" stroke-width="2" stroke-linecap="round"/>
<line x1="1389.5" y1="835.5" x2="1412.5" y2="821.5" stroke="#009400" stroke-width="2" stroke-linecap="round"/>
<line x1="1412.5" y1="821.5" x2="1434.5" y2="818.5" stroke="#009400" stroke-width="2" stroke-linecap="round"/>
<line x1="1434.5" y1="818.5" x2="1457.5" y2="818.5" stroke="#ff3300" stroke-width="2" stroke-linecap="round"/>
<line x1="1457.5" y1="818.5" x2="1480.5" y2="814.5" stroke="#009400" stroke-width="2" stroke-linecap="round"/>
<line x1="1480.5" y1="814.5" x2="1503.5" y2="812.5" stroke="#009400" stroke-width="2" stroke-linecap="round"/>
<line x1="1503.5" y1="812.5" x2="1526.5" y2="807.5" stroke="#009400" stroke-width="2" stroke-linecap="round"/>
<line x1="1526.5" y1="807.5" x2="1549.5" y2="804.5" stroke="#009400" stroke-width="2" stroke-linecap="round"/>
<line x1="1549.5" y1="804.5" x2="1572.5" y2="809.5" stroke="#ff3300" stroke-width="2" stroke-linecap="round"/>
<line x1="1572.5" y1="809.5" x2="1595.5" y2="803.5" stroke="#009400" stroke-width="2" stroke-linecap="round"/>
<line x1="1595.5" y1="803.5" x2="1618.5" y2="798.5" stroke="#009400" stroke-width="2" stroke-linecap="round"/>
<line x1="1618.5" y1="798.5" x2="1641.5" y2="801.5" stroke="#ff3300" stroke-width="2" stroke-linecap="round"/>
<line x1="1641.5" y1="801.5" x2="1664.5" y2="799.5" stroke="#009400" stroke-width="2" stroke-linecap="round"/>
<line x1="1664.5" y1="799.5" x2="1687.5" y2="801.5" stroke="#ff3300" stroke-width="2" stroke-linecap="round"/>
<line x1="1687.5" y1="801.5" x2="1710.5" y2="806.5" stroke="#ff3300" stroke-width="2" stroke-linecap="round"/>
<line x1="1710.5" y1="806.5" x2="1732.5" y2="803.5" stroke="#009400" stroke-width="2" stroke-linecap="round"/>
<line x1="1732.5" y1="803.5" x2="1755.5" y2="785.5" stroke="#009400" stroke-width="2" stroke-linecap="round"/>
<line x1="1755.5" y1="785.5" x2="1778.5" y2="790.5" stroke="#ff3300" stroke-width="2" stroke-linecap="round"/>
<line x1="1778.5" y1="790.5" x2="1801.5" y2="798.5" stroke="#ff3300" stroke-width="2" stroke-linecap="round"/>
<line x1="1801.5" y1="798.5" x2="1824.5" y2="802.5" stroke="#ff3300" stroke-width="2" stroke-linecap="round"/>
<line x1="1824.5" y1="802.5" x2="1847.5" y2="804.5" stroke="#ff3300" stroke-width="2" stroke-linecap="round"/>
<line x1="1847.5" y1="804.5" x2="1870.5" y2="802.5" stroke="#009400" stroke-width="2" stroke-linecap="round"/>
<line x1="1870.5" y1="802.5" x2="1893.5" y2="808.5" stroke="#ff3300" stroke-width="2" stroke-linecap="round"/>
<line x1="1" y1="860" x2="13.5" y2="858.5" stroke="#009400" stroke-width="2"/>
<g shape-rendering="crispEdges" stroke-width="1">
<rect x="4.5" y="963.5" width="18" height="40" fill="url(#gg)" stroke="#189418"/>
<rect x="27.5" y="967.5" width="18" height="36" fill="url(#gr)" stroke="#a83c3c"/>
<rect x="50.5" y="973.5" width="18" height="30" fill="url(#gr)" stroke="#a83c3c"/>
<rect x="73.5" y="962.5" width="18" height="41" fill="url(#gg)" stroke="#189418"/>
<rect x="96.5" y="953.5" width="18" height="50" fill="url(#gg)" stroke="#189418"/>
<rect x="119.5" y="963.5" width="18" height="40" fill="url(#gg)" stroke="#189418"/>
<rect x="142.5" y="981.5" width="18" height="22" fill="url(#gr)" stroke="#a83c3c"/>
<rect x="165.5" y="962.5" width="18" height="41" fill="url(#gg)" stroke="#189418"/>
<rect x="188.5" y="962.5" width="18" height="41" fill="url(#gg)" stroke="#189418"/>
<rect x="211.5" y="944.5" width="18" height="59" fill="url(#gr)" stroke="#a83c3c"/>
<rect x="234.5" y="958.5" width="18" height="45" fill="url(#gr)" stroke="#a83c3c"/>
<rect x="257.5" y="943.5" width="18" height="60" fill="url(#gr)" stroke="#a83c3c"/>
<rect x="279.5" y="946.5" width="18" height="57" fill="url(#gg)" stroke="#189418"/>
<rect x="302.5" y="886.5" width="18" height="117" fill="url(#gr)" stroke="#a83c3c"/>
<rect x="325.5" y="909.5" width="18" height="94" fill="url(#gr)" stroke="#a83c3c"/>
<rect x="348.5" y="931.5" width="18" height="72" fill="url(#gr)" stroke="#a83c3c"/>
<rect x="371.5" y="959.5" width="18" height="44" fill="url(#gg)" stroke="#189418"/>
<rect x="394.5" y="947.5" width="18" height="56" fill="url(#gg)" stroke="#189418"/>
<rect x="417.5" y="956.5" width="18" height="47" fill="url(#gg)" stroke="#189418"/>
<rect x="440.5" y="956.5" width="18" height="47" fill="url(#gg)" stroke="#189418"/>
<rect x="463.5" y="966.5" width="18" height="37" fill="url(#gr)" stroke="#a83c3c"/>
<rect x="486.5" y="972.5" width="18" height="31" fill="url(#gg)" stroke="#189418"/>
<rect x="509.5" y="968.5" width="18" height="35" fill="url(#gg)" stroke="#189418"/>
<rect x="532.5" y="966.5" width="18" height="37" fill="url(#gg)" stroke="#189418"/>
<rect x="555.5" y="976.5" width="18" height="27" fill="url(#gg)" stroke="#189418"/>
<rect x="577.5" y="969.5" width="18" height="34" fill="url(#gg)" stroke="#189418"/>
<rect x="600.5" y="977.5" width="18" height="26" fill="url(#gg)" stroke="#189418"/>
<rect x="623.5" y="975.5" width="18" height="28" fill="url(#gg)" stroke="#189418"/>
<rect x="646.5" y="975.5" width="18" height="28" fill="url(#gg)" stroke="#189418"/>
<rect x="669.5" y="965.5" width="18" height="38" fill="url(#gr)" stroke="#a83c3c"/>
<rect x="692.5" y="976.5" width="18" height="27" fill="url(#gg)" stroke="#189418"/>
<rect x="715.5" y="970.5" width="18" height="33" fill="url(#gg)" stroke="#189418"/>
<rect x="738.5" y="973.5" width="18" height="30" fill="url(#gg)" stroke="#189418"/>
<rect x="761.5" y="972.5" width="18" height="31" fill="url(#gr)" stroke="#a83c3c"/>
<rect x="784.5" y="970.5" width="18" height="33" fill="url(#gg)" stroke="#189418"/>
<rect x="807.5" y="960.5" width="18" height="43" fill="url(#gg)" stroke="#189418"/>
<rect x="830.5" y="963.5" width="18" height="40" fill="url(#gr)" stroke="#a83c3c"/>
<rect x="852.5" y="970.5" width="18" height="33" fill="url(#gg)" stroke="#189418"/>
<rect x="875.5" y="968.5" width="18" height="35" fill="url(#gg)" stroke="#189418"/>
<rect x="898.5" y="973.5" width="18" height="30" fill="url(#gg)" stroke="#189418"/>
<rect x="921.5" y="960.5" width="18" height="43" fill="url(#gr)" stroke="#a83c3c"/>
<rect x="944.5" y="977.5" width="18" height="26" fill="url(#gr)" stroke="#a83c3c"/>
<rect x="967.5" y="981.5" width="18" height="22" fill="url(#gr)" stroke="#a83c3c"/>
<rect x="990.5" y="977.5" width="18" height="26" fill="url(#gr)" stroke="#a83c3c"/>
<rect x="1013.5" y="972.5" width="18" height="31" fill="url(#gg)" stroke="#189418"/>
<rect x="1036.5" y="940.5" width="18" height="63" fill="url(#gr)" stroke="#a83c3c"/>
<rect x="1059.5" y="981.5" width="18" height="22" fill="url(#gg)" stroke="#189418"/>
<rect x="1082.5" y="967.5" width="18" height="36" fill="url(#gr)" stroke="#a83c3c"/>
<rect x="1105.5" y="969.5" width="18" height="34" fill="url(#gr)" stroke="#a83c3c"/>
<rect x="1128.5" y="969.5" width="18" height="34" fill="url(#gr)" stroke="#a83c3c"/>
<rect x="1150.5" y="962.5" width="18" height="41" fill="url(#gg)" stroke="#189418"/>
<rect x="1173.5" y="974.5" width="18" height="29" fill="url(#gr)" stroke="#a83c3c"/>
<rect x="1196.5" y="958.5" width="18" height="45" fill="url(#gg)" stroke="#189418"/>
<rect x="1219.5" y="979.5" width="18" height="24" fill="url(#gg)" stroke="#189418"/>
<rect x="1242.5" y="968.5" width="18" height="35" fill="url(#gr)" stroke="#a83c3c"/>
<rect x="1265.5" y="984.5" width="18" height="19" fill="url(#gg)" stroke="#189418"/>
<rect x="1288.5" y="951.5" width="18" height="52" fill="url(#gg)" stroke="#189418"/>
<rect x="1311.5" y="937.5" width="18" height="66" fill="url(#gr)" stroke="#a83c3c"/>
<rect x="1334.5" y="975.5" width="18" height="28" fill="url(#gg)" stroke="#189418"/>
<rect x="1357.5" y="970.5" width="18" height="33" fill="url(#gg)" stroke="#189418"/>
<rect x="1380.5" y="978.5" width="18" height="25" fill="url(#gr)" stroke="#a83c3c"/>
<rect x="1403.5" y="928.5" width="18" height="75" fill="url(#gr)" stroke="#a83c3c"/>
<rect x="1425.5" y="951.5" width="18" height="52" fill="url(#gr)" stroke="#a83c3c"/>
<rect x="1448.5" y="955.5" width="18" height="48" fill="url(#gr)" stroke="#a83c3c"/>
<rect x="1471.5" y="951.5" width="18" height="52" fill="url(#gg)" stroke="#189418"/>
<rect x="1494.5" y="963.5" width="18" height="40" fill="url(#gr)" stroke="#a83c3c"/>
<rect x="1517.5" y="949.5" width="18" height="54" fill="url(#gr)" stroke="#a83c3c"/>
<rect x="1540.5" y="966.5" width="18" height="37" fill="url(#gr)" stroke="#a83c3c"/>
<rect x="1563.5" y="975.5" width="18" height="28" fill="url(#gg)" stroke="#189418"/>
<rect x="1586.5" y="966.5" width="18" height="37" fill="url(#gg)" stroke="#189418"/>
<rect x="1609.5" y="946.5" width="18" height="57" fill="url(#gr)" stroke="#a83c3c"/>
<rect x="1632.5" y="955.5" width="18" height="48" fill="url(#gr)" stroke="#a83c3c"/>
<rect x="1655.5" y="928.5" width="18" height="75" fill="url(#gr)" stroke="#a83c3c"/>
<rect x="1678.5" y="955.5" width="18" height="48" fill="url(#gr)" stroke="#a83c3c"/>
<rect x="1701.5" y="977.5" width="18" height="26" fill="url(#gg)" stroke="#189418"/>
<rect x="1723.5" y="922.5" width="18" height="81" fill="url(#gg)" stroke="#189418"/>
<rect x="1746.5" y="873.5" width="18" height="130" fill="url(#gr)" stroke="#a83c3c"/>
<rect x="1769.5" y="918.5" width="18" height="85" fill="url(#gg)" stroke="#189418"/>
<rect x="1792.5" y="960.5" width="18" height="43" fill="url(#gr)" stroke="#a83c3c"/>
<rect x="1815.5" y="952.5" width="18" height="51" fill="url(#gr)" stroke="#a83c3c"/>
<rect x="1838.5" y="926.5" width="18" height="77" fill="url(#gg)" stroke="#189418"/>
<rect x="1861.5" y="951.5" width="18" height="52" fill="url(#gg)" stroke="#189418"/>
<rect x="1884.5" y="965.5" width="18" height="38" fill="url(#gr)" stroke="#a83c3c"/>
</g>
<g shape-rendering="crispEdges" stroke="#6f8794" stroke-width="1" fill="none">
<line x1="0" y1="777.5" x2="1996" y2="777.5"/>
<line x1="0" y1="780.5" x2="1996" y2="780.5"/>
<line x1="0" y1="862.5" x2="1996" y2="862.5"/>
<line x1="0" y1="865.5" x2="1996" y2="865.5"/>
<line x1="0" y1="1003.5" x2="1996" y2="1003.5"/>
<line x1="1995.5" y1="20" x2="1995.5" y2="777"/>
<line x1="1995.5" y1="780" x2="1995.5" y2="862"/>
<line x1="1995.5" y1="865" x2="1995.5" y2="1003"/>
</g>
<rect x="0" y="778" width="1996" height="2" fill="#fff"/><rect x="0" y="863" width="1996" height="2" fill="#fff"/>
<rect x="0" y="0" width="1" height="1024" fill="#6f8794"/>
<rect x="2047" y="0" width="1" height="1024" fill="#6f8794"/>
<rect x="0" y="1023" width="2048" height="1" fill="#6f8794"/>
<rect x="0" y="0" width="2048" height="20.5" fill="url(#hd)"/>
<rect x="0" y="0" width="2048" height="1" fill="#64808c"/>
<rect x="0" y="20" width="2048" height="1" fill="#8aa2ae"/>
<rect x="0" y="0" width="1" height="21" fill="#6f8794"/><rect x="2047" y="0" width="1" height="21" fill="#6f8794"/>
<g shape-rendering="crispEdges"><line x1="6.5" y1="9" x2="6.5" y2="19" stroke="#c02020"/><rect x="3.5" y="10.5" width="6" height="6" fill="#f08080" stroke="#c02020"/><line x1="14.5" y1="3" x2="14.5" y2="19" stroke="#109010"/><rect x="11.5" y="5.5" width="6" height="10" fill="#60e060" stroke="#109010"/></g>
<text class="t" x="23.8" y="14.7" fill="#000" textLength="196.8" lengthAdjust="spacingAndGlyphs">OSR - OSRAM LICHT AG NA O.N.</text>
<text class="t" x="238" y="14.7" fill="#000" textLength="101" lengthAdjust="spacingAndGlyphs">38,885 (-0,46%)</text>
<text class="t" x="355" y="14.7" fill="#000" textLength="46.5" lengthAdjust="spacingAndGlyphs">Täglich</text>
<text class="t" x="410.5" y="14.7" fill="#000" textLength="78.5" lengthAdjust="spacingAndGlyphs">09 Mai 2014</text>
<text class="t" x="1898.8" y="14.7" fill="#000" textLength="146.7" lengthAdjust="spacingAndGlyphs">www.ProRealTime.com</text>
<rect x="1" y="21" width="690" height="14" fill="url(#lg0)"/>
<g shape-rendering="crispEdges">
<line x1="1" y1="34.5" x2="691" y2="34.5" stroke="#6f8a96"/>
<line x1="31.5" y1="21" x2="31.5" y2="35" stroke="#6f8a96"/>
<line x1="32.5" y1="21" x2="32.5" y2="34" stroke="#b8d0da"/>
<line x1="232.5" y1="21" x2="232.5" y2="35" stroke="#6f8a96"/>
<line x1="233.5" y1="21" x2="233.5" y2="34" stroke="#b8d0da"/>
<line x1="427.5" y1="21" x2="427.5" y2="35" stroke="#6f8a96"/>
<line x1="428.5" y1="21" x2="428.5" y2="34" stroke="#b8d0da"/>
<line x1="489.5" y1="21" x2="489.5" y2="35" stroke="#6f8a96"/>
<line x1="490.5" y1="21" x2="490.5" y2="34" stroke="#b8d0da"/>
<line x1="557.5" y1="21" x2="557.5" y2="35" stroke="#6f8a96"/>
<line x1="558.5" y1="21" x2="558.5" y2="34" stroke="#b8d0da"/>
<line x1="690.5" y1="21" x2="690.5" y2="35" stroke="#6f8a96"/>
</g>
<text class="l" x="3" y="31" fill="#000000" textLength="27.3" lengthAdjust="spacingAndGlyphs">Kurs</text>
<text class="l" x="33.5" y="31" fill="#ff0000" textLength="196" lengthAdjust="spacingAndGlyphs">Gleit. Durchschnitt (Exponentiell 200)</text>
<text class="l" x="234.5" y="31" fill="#0000d0" textLength="190" lengthAdjust="spacingAndGlyphs">Gleit. Durchschnitt (Exponentiell 50)</text>
<text class="l" x="430" y="31" fill="#00cc00" textLength="56.5" lengthAdjust="spacingAndGlyphs">Bol. oberes</text>
<text class="l" x="491.5" y="31" fill="#ff0033" textLength="63" lengthAdjust="spacingAndGlyphs">Bol. unteres</text>
<text class="l" x="560" y="31" fill="#8800cc" textLength="127" lengthAdjust="spacingAndGlyphs">Bollinger mittleres (20 2)</text>
<rect x="1" y="781" width="106" height="13.5" fill="url(#lg)"/><rect x="1.5" y="781.5" width="105" height="13" fill="none" stroke="#7c94a2" shape-rendering="crispEdges"/>
<text class="l" x="3" y="790.7" fill="#ff3300" textLength="100.5" lengthAdjust="spacingAndGlyphs">Av True Range (10)</text>
<rect x="1" y="866" width="51.5" height="13.5" fill="url(#lg)"/><rect x="1.5" y="866.5" width="51" height="13" fill="none" stroke="#7c94a2" shape-rendering="crispEdges"/>
<text class="l" x="3" y="875.5" fill="#e87878" textLength="46.5" lengthAdjust="spacingAndGlyphs">Volumen</text>
<g shape-rendering="crispEdges" stroke="#6f8794" stroke-width="1">
<line x1="1996" y1="732.5" x2="2000" y2="732.5"/>
<line x1="1996" y1="684.5" x2="2000" y2="684.5"/>
<line x1="1996" y1="635.5" x2="2000" y2="635.5"/>
<line x1="1996" y1="586.5" x2="2000" y2="586.5"/>
<line x1="1996" y1="537.5" x2="2000" y2="537.5"/>
<line x1="1996" y1="489.5" x2="2000" y2="489.5"/>
<line x1="1996" y1="440.5" x2="2000" y2="440.5"/>
<line x1="1996" y1="391.5" x2="2000" y2="391.5"/>
<line x1="1996" y1="342.5" x2="2000" y2="342.5"/>
<line x1="1996" y1="294.5" x2="2000" y2="294.5"/>
<line x1="1996" y1="245.5" x2="2000" y2="245.5"/>
<line x1="1996" y1="196.5" x2="2000" y2="196.5"/>
<line x1="1996" y1="147.5" x2="2000" y2="147.5"/>
<line x1="1996" y1="98.5" x2="2000" y2="98.5"/>
<line x1="1996" y1="50.5" x2="2000" y2="50.5"/>
<line x1="1996" y1="787.5" x2="2000" y2="787.5"/>
<line x1="1996" y1="823.5" x2="2000" y2="823.5"/>
<line x1="1996" y1="860.5" x2="2000" y2="860.5"/>
<line x1="1996" y1="876.5" x2="2000" y2="876.5"/>
<line x1="1996" y1="918.5" x2="2000" y2="918.5"/>
<line x1="1996" y1="961.5" x2="2000" y2="961.5"/>
</g>
<text class="s k" x="2002.6" y="735.1" fill="#000" textLength="11.2" lengthAdjust="spacingAndGlyphs">36</text>
<text class="s k" x="2002.6" y="687.1" fill="#000" textLength="11.2" lengthAdjust="spacingAndGlyphs">37</text>
<text class="s k" x="2002.6" y="638.1" fill="#000" textLength="11.2" lengthAdjust="spacingAndGlyphs">38</text>
<text class="s k" x="2002.6" y="589.1" fill="#000" textLength="11.2" lengthAdjust="spacingAndGlyphs">39</text>
<text class="s k" x="2002.6" y="540.1" fill="#000" textLength="11.2" lengthAdjust="spacingAndGlyphs">40</text>
<text class="s k" x="2002.6" y="492.1" fill="#000" textLength="11.2" lengthAdjust="spacingAndGlyphs">41</text>
<text class="s k" x="2002.6" y="443.1" fill="#000" textLength="11.2" lengthAdjust="spacingAndGlyphs">42</text>
<text class="s k" x="2002.6" y="394.1" fill="#000" textLength="11.2" lengthAdjust="spacingAndGlyphs">43</text>
<text class="s k" x="2002.6" y="345.1" fill="#000" textLength="11.2" lengthAdjust="spacingAndGlyphs">44</text>
<text class="s k" x="2002.6" y="297.1" fill="#000" textLength="11.2" lengthAdjust="spacingAndGlyphs">45</text>
<text class="s k" x="2002.6" y="248.1" fill="#000" textLength="11.2" lengthAdjust="spacingAndGlyphs">46</text>
<text class="s k" x="2002.6" y="199.1" fill="#000" textLength="11.2" lengthAdjust="spacingAndGlyphs">47</text>
<text class="s k" x="2002.6" y="150.1" fill="#000" textLength="11.2" lengthAdjust="spacingAndGlyphs">48</text>
<text class="s k" x="2002.6" y="101.1" fill="#000" textLength="11.2" lengthAdjust="spacingAndGlyphs">49</text>
<text class="s k" x="2002.6" y="53.1" fill="#000" textLength="11.2" lengthAdjust="spacingAndGlyphs">50</text>
<rect x="2000.5" y="288.5" width="35.0" height="16" fill="url(#pb)" stroke="#748c9a" stroke-width="1" shape-rendering="crispEdges"/>
<text class="s" x="2002.3" y="299.8" fill="#00cc00" textLength="32" lengthAdjust="spacingAndGlyphs">44,953</text>
<rect x="2000.5" y="388.5" width="35.0" height="16" fill="url(#pb)" stroke="#748c9a" stroke-width="1" shape-rendering="crispEdges"/>
<text class="s" x="2002.3" y="399.8" fill="#0000d0" textLength="32" lengthAdjust="spacingAndGlyphs">42,902</text>
<rect x="2000.5" y="501.5" width="35.0" height="16" fill="url(#pb)" stroke="#748c9a" stroke-width="1" shape-rendering="crispEdges"/>
<text class="s" x="2002.3" y="512.8" fill="#8800cc" textLength="32" lengthAdjust="spacingAndGlyphs">40,579</text>
<rect x="2000.5" y="538.5" width="35.0" height="16" fill="url(#pb)" stroke="#748c9a" stroke-width="1" shape-rendering="crispEdges"/>
<text class="s" x="2002.3" y="549.8" fill="#ff0000" textLength="32" lengthAdjust="spacingAndGlyphs">39,817</text>
<rect x="2000.5" y="584.5" width="35.0" height="16" fill="url(#py)" stroke="#748c9a" stroke-width="1" shape-rendering="crispEdges"/>
<text class="s k" x="2002.3" y="595.8" fill="#000000" textLength="32" lengthAdjust="spacingAndGlyphs">38,885</text>
<rect x="2000.5" y="715.5" width="35.0" height="16" fill="url(#pb)" stroke="#748c9a" stroke-width="1" shape-rendering="crispEdges"/>
<text class="s" x="2002.3" y="726.8" fill="#ff0033" textLength="32" lengthAdjust="spacingAndGlyphs">36,206</text>
<text class="s k" x="2002" y="791" fill="#000">2</text>
<text class="s k" x="2002" y="827" fill="#000" textLength="14" lengthAdjust="spacingAndGlyphs">1,5</text>
<text class="s k" x="2002" y="859" fill="#000">1</text>
<rect x="2000.5" y="800.5" width="35.0" height="16" fill="url(#pb)" stroke="#748c9a" stroke-width="1" shape-rendering="crispEdges"/>
<text class="s" x="2002.3" y="811.8" fill="#ff3300" textLength="32" lengthAdjust="spacingAndGlyphs">1,7180</text>
<text class="s k" x="2002.3" y="879" fill="#000" textLength="34.3" lengthAdjust="spacingAndGlyphs">1.500K</text>
<text class="s k" x="2002.3" y="920.9" fill="#000" textLength="34.3" lengthAdjust="spacingAndGlyphs">1.000K</text>
<text class="s k" x="2002.3" y="964.3" fill="#000" textLength="38" lengthAdjust="spacingAndGlyphs">500.000</text>
<rect x="2000.5" y="957.5" width="41.0" height="16" fill="url(#pb)" stroke="#748c9a" stroke-width="1" shape-rendering="crispEdges"/>
<text class="s" x="2002.3" y="968.8" fill="#e06070" textLength="38" lengthAdjust="spacingAndGlyphs">447.197</text>
<g shape-rendering="crispEdges" stroke="#6f8794" stroke-width="1">
<line x1="13.5" y1="1004" x2="13.5" y2="1008"/>
<line x1="59.5" y1="1004" x2="59.5" y2="1008"/>
<line x1="105.5" y1="1004" x2="105.5" y2="1008"/>
<line x1="151.5" y1="1004" x2="151.5" y2="1008"/>
<line x1="197.5" y1="1004" x2="197.5" y2="1008"/>
<line x1="243.5" y1="1004" x2="243.5" y2="1008"/>
<line x1="288.5" y1="1004" x2="288.5" y2="1008"/>
<line x1="334.5" y1="1004" x2="334.5" y2="1008"/>
<line x1="380.5" y1="1004" x2="380.5" y2="1008"/>
<line x1="426.5" y1="1004" x2="426.5" y2="1008"/>
<line x1="472.5" y1="1004" x2="472.5" y2="1008"/>
<line x1="518.5" y1="1004" x2="518.5" y2="1008"/>
<line x1="564.5" y1="1004" x2="564.5" y2="1008"/>
<line x1="609.5" y1="1004" x2="609.5" y2="1008"/>
<line x1="655.5" y1="1004" x2="655.5" y2="1008"/>
<line x1="701.5" y1="1004" x2="701.5" y2="1008"/>
<line x1="747.5" y1="1004" x2="747.5" y2="1008"/>
<line x1="793.5" y1="1004" x2="793.5" y2="1008"/>
<line x1="839.5" y1="1004" x2="839.5" y2="1008"/>
<line x1="884.5" y1="1004" x2="884.5" y2="1008"/>
<line x1="930.5" y1="1004" x2="930.5" y2="1008"/>
<line x1="976.5" y1="1004" x2="976.5" y2="1008"/>
<line x1="1022.5" y1="1004" x2="1022.5" y2="1008"/>
<line x1="1068.5" y1="1004" x2="1068.5" y2="1008"/>
<line x1="1114.5" y1="1004" x2="1114.5" y2="1008"/>
<line x1="1159.5" y1="1004" x2="1159.5" y2="1008"/>
<line x1="1205.5" y1="1004" x2="1205.5" y2="1008"/>
<line x1="1251.5" y1="1004" x2="1251.5" y2="1008"/>
<line x1="1297.5" y1="1004" x2="1297.5" y2="1008"/>
<line x1="1320.5" y1="1004" x2="1320.5" y2="1008"/>
<line x1="1343.5" y1="1004" x2="1343.5" y2="1008"/>
<line x1="1389.5" y1="1004" x2="1389.5" y2="1008"/>
<line x1="1434.5" y1="1004" x2="1434.5" y2="1008"/>
<line x1="1480.5" y1="1004" x2="1480.5" y2="1008"/>
<line x1="1526.5" y1="1004" x2="1526.5" y2="1008"/>
<line x1="1572.5" y1="1004" x2="1572.5" y2="1008"/>
<line x1="1618.5" y1="1004" x2="1618.5" y2="1008"/>
<line x1="1664.5" y1="1004" x2="1664.5" y2="1008"/>
<line x1="1710.5" y1="1004" x2="1710.5" y2="1008"/>
<line x1="1755.5" y1="1004" x2="1755.5" y2="1008"/>
<line x1="1778.5" y1="1004" x2="1778.5" y2="1008"/>
<line x1="1801.5" y1="1004" x2="1801.5" y2="1008"/>
<line x1="1847.5" y1="1004" x2="1847.5" y2="1008"/>
<line x1="1893.5" y1="1004" x2="1893.5" y2="1008"/>
<line x1="1939.5" y1="1004" x2="1939.5" y2="1008"/>
<line x1="1985.5" y1="1004" x2="1985.5" y2="1008"/>
</g>
<text class="s k" x="13.1" y="1019" fill="#000" text-anchor="middle" style="letter-spacing:0.6px">10</text>
<text class="s k" x="59.1" y="1019" fill="#000" text-anchor="middle" style="letter-spacing:0.6px">14</text>
<text class="s k" x="105.1" y="1019" fill="#000" text-anchor="middle" style="letter-spacing:0.6px">16</text>
<text class="s k" x="151.1" y="1019" fill="#000" text-anchor="middle" style="letter-spacing:0.6px">20</text>
<text class="s k" x="197.1" y="1019" fill="#000" text-anchor="middle" style="letter-spacing:0.6px">22</text>
<text class="s k" x="243.1" y="1019" fill="#000" text-anchor="middle" style="letter-spacing:0.6px">24</text>
<text class="s k" x="288.1" y="1019" fill="#000" text-anchor="middle" style="letter-spacing:0.6px">28</text>
<text class="s k" x="334.1" y="1019" fill="#000" text-anchor="middle" style="letter-spacing:0.6px">30</text>
<text class="m" x="380.6" y="1019" fill="#000" text-anchor="middle" style="letter-spacing:0.35px">Feb</text>
<text class="s k" x="426.1" y="1019" fill="#000" text-anchor="middle" style="letter-spacing:0.6px">05</text>
<text class="s k" x="472.1" y="1019" fill="#000" text-anchor="middle" style="letter-spacing:0.6px">07</text>
<text class="s k" x="518.1" y="1019" fill="#000" text-anchor="middle" style="letter-spacing:0.6px">11</text>
<text class="s k" x="564.1" y="1019" fill="#000" text-anchor="middle" style="letter-spacing:0.6px">13</text>
<text class="s k" x="609.1" y="1019" fill="#000" text-anchor="middle" style="letter-spacing:0.6px">17</text>
<text class="s k" x="655.1" y="1019" fill="#000" text-anchor="middle" style="letter-spacing:0.6px">19</text>
<text class="s k" x="701.1" y="1019" fill="#000" text-anchor="middle" style="letter-spacing:0.6px">21</text>
<text class="s k" x="747.1" y="1019" fill="#000" text-anchor="middle" style="letter-spacing:0.6px">25</text>
<text class="s k" x="793.1" y="1019" fill="#000" text-anchor="middle" style="letter-spacing:0.6px">27</text>
<text class="m" x="839.6" y="1019" fill="#000" text-anchor="middle" style="letter-spacing:0.35px">Mrz</text>
<text class="s k" x="884.1" y="1019" fill="#000" text-anchor="middle" style="letter-spacing:0.6px">05</text>
<text class="s k" x="930.1" y="1019" fill="#000" text-anchor="middle" style="letter-spacing:0.6px">07</text>
<text class="s k" x="976.1" y="1019" fill="#000" text-anchor="middle" style="letter-spacing:0.6px">11</text>
<text class="s k" x="1022.1" y="1019" fill="#000" text-anchor="middle" style="letter-spacing:0.6px">13</text>
<text class="s k" x="1068.1" y="1019" fill="#000" text-anchor="middle" style="letter-spacing:0.6px">17</text>
<text class="s k" x="1114.1" y="1019" fill="#000" text-anchor="middle" style="letter-spacing:0.6px">19</text>
<text class="s k" x="1159.1" y="1019" fill="#000" text-anchor="middle" style="letter-spacing:0.6px">21</text>
<text class="s k" x="1205.1" y="1019" fill="#000" text-anchor="middle" style="letter-spacing:0.6px">25</text>
<text class="s k" x="1251.1" y="1019" fill="#000" text-anchor="middle" style="letter-spacing:0.6px">27</text>
<text class="s k" x="1297.1" y="1019" fill="#000" text-anchor="middle" style="letter-spacing:0.6px">31</text>
<text class="m" x="1320.6" y="1019" fill="#000" text-anchor="middle" style="letter-spacing:0.35px">Apr</text>
<text class="s k" x="1343.1" y="1019" fill="#000" text-anchor="middle" style="letter-spacing:0.6px">02</text>
<text class="s k" x="1389.1" y="1019" fill="#000" text-anchor="middle" style="letter-spacing:0.6px">04</text>
<text class="s k" x="1434.1" y="1019" fill="#000" text-anchor="middle" style="letter-spacing:0.6px">08</text>
<text class="s k" x="1480.1" y="1019" fill="#000" text-anchor="middle" style="letter-spacing:0.6px">10</text>
<text class="s k" x="1526.1" y="1019" fill="#000" text-anchor="middle" style="letter-spacing:0.6px">14</text>
<text class="s k" x="1572.1" y="1019" fill="#000" text-anchor="middle" style="letter-spacing:0.6px">16</text>
<text class="s k" x="1618.1" y="1019" fill="#000" text-anchor="middle" style="letter-spacing:0.6px">22</text>
<text class="s k" x="1664.1" y="1019" fill="#000" text-anchor="middle" style="letter-spacing:0.6px">24</text>
<text class="s k" x="1710.1" y="1019" fill="#000" text-anchor="middle" style="letter-spacing:0.6px">28</text>
<text class="s k" x="1755.1" y="1019" fill="#000" text-anchor="middle" style="letter-spacing:0.6px">30</text>
<text class="m" x="1778.6" y="1019" fill="#000" text-anchor="middle" style="letter-spacing:0.35px">Mai</text>
<text class="s k" x="1801.1" y="1019" fill="#000" text-anchor="middle" style="letter-spacing:0.6px">05</text>
<text class="s k" x="1847.1" y="1019" fill="#000" text-anchor="middle" style="letter-spacing:0.6px">07</text>
<text class="s k" x="1893.1" y="1019" fill="#000" text-anchor="middle" style="letter-spacing:0.6px">09</text>
<text class="s k" x="1939.1" y="1019" fill="#000" text-anchor="middle" style="letter-spacing:0.6px">13</text>
<text class="s k" x="1985.1" y="1019" fill="#000" text-anchor="middle" style="letter-spacing:0.6px">15</text>
</svg></body></html>
